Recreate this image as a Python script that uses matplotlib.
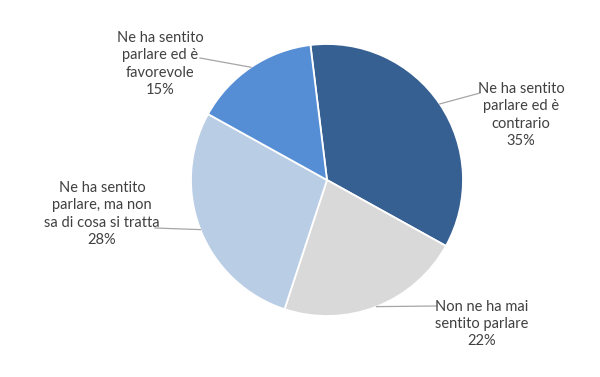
import numpy as np
import matplotlib.pyplot as plt

labels = ["Ne ha sentito\nparlare ed è\ncontrario",
          "Non ne ha mai\nsentito parlare",
          "Ne ha sentito\nparlare, ma non\nsa di cosa si tratta",
          "Ne ha sentito\nparlare ed è\nfavorevole"]
values = [35, 22, 28, 15]
colors = ["#376092", "#d9d9d9", "#b9cde5", "#558ed5"]

# label text centers and leader line ends (pixel coords, y up)
text_pos = [(521, 262), (482, 53), (102, 163), (160, 313)]
line_end = [(480, 284), (437, 71), (155, 149), (200, 319)]

plt.rcParams['font.family'] = ['Lato', 'DejaVu Sans']

fig = plt.figure(figsize=(6, 3.77), dpi=100)
ax = fig.add_axes([0, 0, 1, 1])
ax.set_aspect('equal')

cx, cy, r = 327, 197, 136
wedges, _ = ax.pie(values, colors=colors, startangle=97, counterclock=False,
                   center=(cx, cy), radius=r, frame=True,
                   wedgeprops=dict(edgecolor='white', linewidth=1.3))
ax.set_xlim(0, 600)
ax.set_ylim(0, 377)
ax.axis('off')

for w, lab, v, tp, le in zip(wedges, labels, values, text_pos, line_end):
    mid = np.deg2rad((w.theta1 + w.theta2) / 2)
    ex, ey = cx + r * np.cos(mid), cy + r * np.sin(mid)
    ax.plot([ex, le[0]], [ey, le[1]], color='#a6a6a6', lw=0.9)
    ax.text(tp[0], tp[1], f"{lab}\n{v}%", ha='center', va='center',
            fontsize=10.5, color='#404040', linespacing=1.3)

fig.savefig("out.png", dpi=100)
